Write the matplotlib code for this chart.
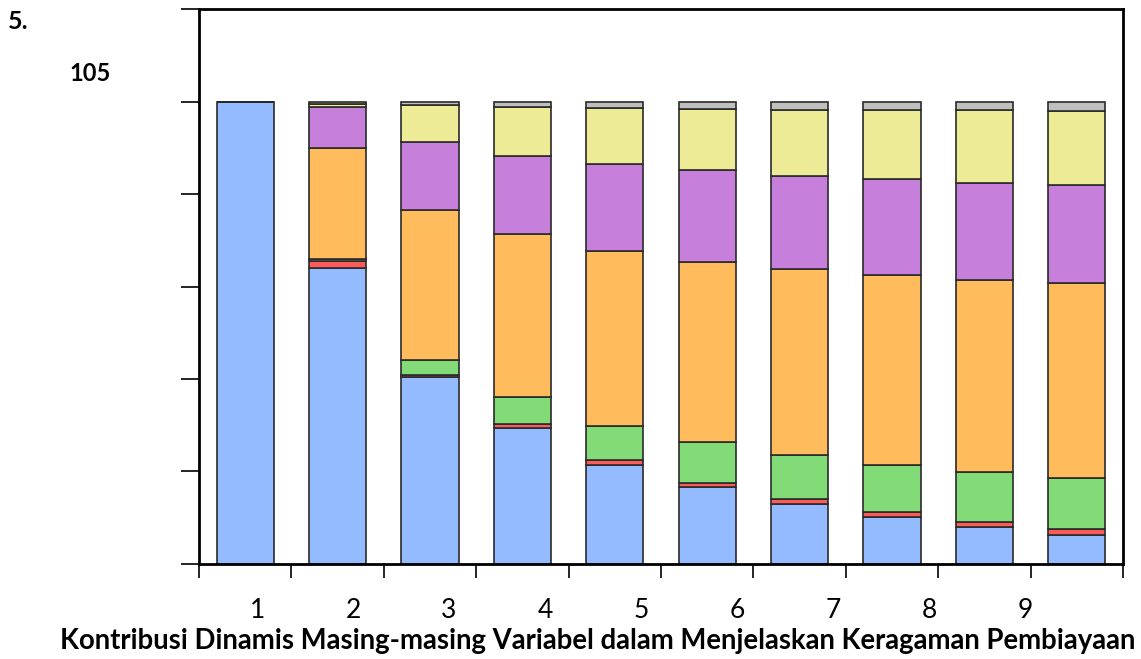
import numpy as np
import matplotlib
matplotlib.use("Agg")
import matplotlib.pyplot as plt

# periods 1..10 (only 1..9 labelled in the original)
periods = [1, 2, 3, 4, 5, 6, 7, 8, 9, 10]
tick_labels = ["1", "2", "3", "4", "5", "6", "7", "8", "9"]

# stacked shares (%) bottom -> top
blue = [100.0, 64.1, 40.5, 29.3, 21.5, 16.6, 12.9, 10.2, 7.9, 6.3]
red = [0.0, 1.5, 0.4, 0.9, 1.0, 1.0, 1.1, 1.1, 1.2, 1.3]
green = [0.0, 0.3, 3.2, 6.0, 7.3, 8.7, 9.5, 10.2, 10.8, 11.0]
orange = [0.0, 24.0, 32.5, 35.1, 37.8, 39.1, 40.2, 41.0, 41.6, 42.2]
purple = [0.0, 9.0, 14.7, 17.0, 18.8, 19.7, 20.2, 20.7, 20.9, 21.2]
yellow = [0.0, 0.6, 8.05, 10.6, 12.3, 13.2, 14.3, 15.0, 15.7, 15.9]
gray = [0.0, 0.5, 0.65, 1.1, 1.3, 1.7, 1.8, 1.8, 1.9, 2.1]

series = [blue, red, green, orange, purple, yellow, gray]
colors = ["#94bbff", "#ff5a5a", "#83db77", "#ffbb5c", "#c67fdb", "#edeb95", "#c0c0c0"]

fig = plt.figure(figsize=(11.41, 6.59), dpi=100)
ax = fig.add_axes([0.1744, 0.1442, 0.8098, 0.8421])

x = np.arange(len(periods))
bottom = np.zeros(len(periods))
for vals, col in zip(series, colors):
    vals = np.array(vals)
    ax.bar(x, vals, bottom=bottom, width=0.62, color=col,
           edgecolor="#2a2a2a", linewidth=1.2)
    bottom += vals

ax.set_xlim(-0.5, len(periods) - 0.5)
ax.set_ylim(0, 120)
ax.set_yticks(np.arange(0, 121, 20))
ax.set_yticklabels([])
ax.set_xticks(np.arange(-0.5, len(periods), 1.0))
ax.set_xticklabels([])
ax.tick_params(axis="y", direction="out", length=13, width=1.2)
ax.tick_params(axis="x", direction="out", length=10, width=1.2)
for sp in ax.spines.values():
    sp.set_linewidth(2)
    sp.set_color("black")

# category labels sit on their own spacing below the axis
for i, lab in enumerate(tick_labels):
    ax.text(0.0628 + i * 0.1039, -0.083, lab, transform=ax.transAxes,
            ha="center", va="center", fontsize=19, family="Lato")

fig.text(0.5237, 0.027, "Kontribusi Dinamis Masing-masing Variabel dalam Menjelaskan Keragaman Pembiayaan",
         ha="center", va="center", fontsize=19.8, fontweight="bold", family="Lato")
fig.text(0.007, 0.967, "5.", ha="left", va="center", fontsize=18, fontweight="bold", family="Lato")
fig.text(0.079, 0.889, "105", ha="center", va="center", fontsize=17, fontweight="bold", family="Lato")

fig.savefig("out.png", dpi=100)
